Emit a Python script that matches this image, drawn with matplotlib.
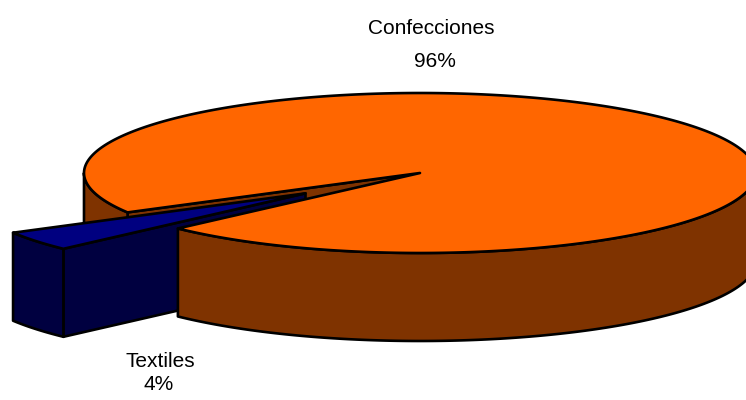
import numpy as np
import matplotlib.pyplot as plt
from matplotlib.patches import Polygon

# datos
labels = ["Confecciones", "Textiles"]
values = [96, 4]
pct_labels = ["96%", "4%"]

# geometria del pastel (pixeles)
cx, cy = 420, 173
rx, ry = 336, 80
depth = 88
start = 209.5        # angulo donde empieza Textiles
explode = 0.425      # desplazamiento de la porcion Textiles

top_colors = ["#ff6600", "#000080"]
side_colors = ["#7f3300", "#000040"]
lw = 1.9


def pt(t, r=1.0, z=0.0, off=(0.0, 0.0)):
    a = np.radians(t)
    x = cx + rx * (r * np.cos(a) + off[0])
    y = cy - ry * (r * np.sin(a) + off[1]) + z * depth
    return x, y


def arc(t0, t1, z=0.0, off=(0.0, 0.0)):
    ts = np.linspace(t0, t1, max(int(abs(t1 - t0) * 2), 2))
    return [pt(t, 1.0, z, off) for t in ts]


def side(t0, t1, off=(0.0, 0.0)):
    return arc(t0, t1, 0, off) + arc(t0, t1, 1, off)[::-1]


def cut(t, off=(0.0, 0.0)):
    return [pt(t, 0, 0, off), pt(t, 1, 0, off), pt(t, 1, 1, off), pt(t, 0, 1, off)]


def top(t0, t1, off=(0.0, 0.0)):
    return [pt(0, 0, 0, off)] + arc(t0, t1, 0, off)


def draw(ax, verts, color):
    ax.add_patch(Polygon(verts, closed=True, facecolor=color, edgecolor="black",
                         linewidth=lw, joinstyle="round"))


fig = plt.figure(figsize=(7.46, 4), dpi=100)
ax = fig.add_axes([0, 0, 1, 1])
ax.set_xlim(0, 746)
ax.set_ylim(400, 0)
ax.axis("off")

# angulos de las porciones
span_t = values[1] / sum(values) * 360
b0, b1 = start, start + span_t          # Textiles
a0, a1 = b1, start + 360                # Confecciones
mid = np.radians((b0 + b1) / 2)
off = (explode * np.cos(mid), explode * np.sin(mid))

# orden de dibujo (de atras hacia adelante)
draw(ax, cut(a1), side_colors[0])
draw(ax, side(540, a1), side_colors[0])
draw(ax, cut(b1, off), side_colors[1])
draw(ax, side(b0, b1, off), side_colors[1])
draw(ax, side(a0, 360), side_colors[0])
draw(ax, top(a0, a1), top_colors[0])
draw(ax, top(b0, b1, off), top_colors[1])

font = dict(family="Liberation Sans", fontsize=15, ha="center", va="baseline")
ax.text(431, 34, labels[0], **font)
ax.text(435, 67, pct_labels[0], **font)
ax.text(160, 367, labels[1], **font)
ax.text(159, 390, pct_labels[1], **font)

fig.savefig("out.png", dpi=100)
